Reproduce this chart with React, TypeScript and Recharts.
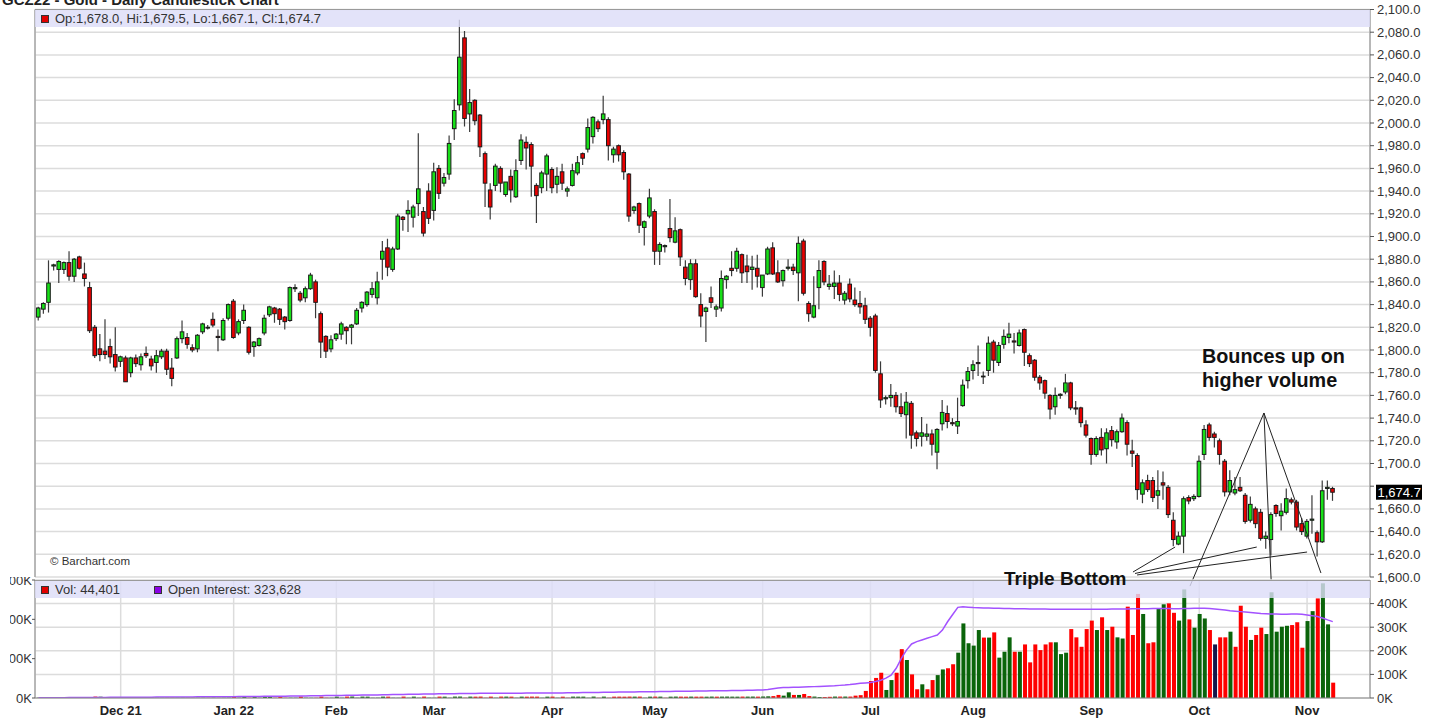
import React from 'react';
import { ComposedChart, Bar, Line, XAxis, YAxis, CartesianGrid, ReferenceLine } from 'recharts';

const FONT = '"Liberation Sans", Arial, Helvetica, sans-serif';

// ---- categories / ticks ----
const monthIdx = [16, 38, 58, 77, 100, 120, 141, 162, 182, 205, 226, 247];
const monthLabels = ['Dec 21', 'Jan 22', 'Feb', 'Mar', 'Apr', 'May', 'Jun', 'Jul', 'Aug', 'Sep', 'Oct', 'Nov'];
const priceTicks = [1600, 1620, 1640, 1660, 1680, 1700, 1720, 1740, 1760, 1780, 1800, 1820, 1840, 1860, 1880, 1900, 1920, 1940, 1960, 1980, 2000, 2020, 2040, 2060, 2080, 2100];
const volTicks = [0, 100, 200, 300, 400];
const leftVolTicks = [0, 100, 200, 300];
const xDomain: [number, number] = [-0.68, 259.25];

// ---- daily OHLC, Nov 8 2021 .. Nov 8 2022 ----
const ohlc: [number, number, number, number][] = [
  [1829,1838,1826,1837],[1836,1842,1832,1841],[1842,1879,1833,1859],[1874,1876,1870,1875],[1871,1879,1859,1878],
  [1871,1878,1867,1877],[1877,1887,1861,1865],[1865,1881,1860,1880],[1882,1883,1871,1872],[1867,1877,1856,1863],
  [1855,1860,1815,1817],[1820,1822,1793,1795],[1801,1814,1790,1796],[1799,1827,1792,1796],[1803,1810,1788,1794],
  [1796,1820,1781,1785],[1790,1795,1785,1794],[1793,1795,1772,1772],[1780,1794,1776,1793],[1793,1796,1785,1788],
  [1787,1797,1782,1794],[1797,1803,1793,1795],[1792,1795,1782,1786],[1789,1800,1780,1795],[1794,1801,1792,1799],
  [1799,1801,1778,1783],[1784,1793,1768,1775],[1793,1812,1792,1810],[1810,1826,1806,1816],[1811,1815,1801,1805],
  [1802,1805,1798,1800],[1801,1814,1798,1813],[1816,1824,1814,1823],[1820,1822,1818,1820],[1827,1833,1820,1822],
  [1812,1818,1799,1811],[1809,1828,1808,1826],[1828,1841,1826,1840],[1843,1845,1810,1811],[1815,1827,1813,1825],
  [1826,1840,1823,1835],[1820,1821,1796,1798],[1803,1808,1794,1807],[1804,1811,1803,1810],[1815,1831,1813,1828],
  [1831,1839,1829,1838],[1837,1838,1824,1832],[1836,1837,1822,1827],[1829,1830,1818,1825],[1826,1856,1825,1855],
  [1854,1858,1851,1855],[1850,1852,1842,1844],[1846,1856,1842,1854],[1854,1868,1853,1866],[1860,1862,1828,1842],
  [1832,1834,1793,1807],[1812,1813,1793,1799],[1801,1813,1798,1809],[1810,1815,1808,1814],[1814,1825,1809,1823],
  [1820,1821,1805,1817],[1820,1823,1805,1822],[1823,1837,1822,1835],[1837,1843,1833,1842],[1840,1852,1838,1851],
  [1849,1860,1846,1854],[1846,1869,1840,1860],[1880,1896,1862,1887],[1890,1898,1865,1873],[1871,1891,1869,1889],
  [1889,1920,1888,1918],[1917,1918,1905,1915],[1920,1932,1904,1923],[1917,1928,1908,1926],[1929,1991,1918,1942],
  [1922,1926,1900,1903],[1940,1947,1911,1916],[1923,1965,1914,1957],[1960,1963,1933,1938],[1947,1956,1944,1952],
  [1955,1989,1950,1982],[1995,2021,1985,2011],[2016,2091,2011,2058],[2075,2081,1997,2004],[2008,2030,1992,2018],
  [2020,2021,1998,2002],[2007,2008,1970,1979],[1973,1975,1926,1947],[1941,1947,1915,1926],[1945,1964,1940,1962],
  [1960,1962,1939,1947],[1937,1948,1935,1948],[1953,1959,1930,1941],[1935,1968,1934,1958],[1967,1990,1963,1985],
  [1983,1988,1959,1978],[1981,1983,1935,1962],[1945,1947,1912,1936],[1943,1958,1938,1956],[1955,1973,1940,1971],
  [1959,1961,1938,1943],[1946,1961,1938,1953],[1957,1964,1941,1947],[1940,1944,1935,1942],[1945,1964,1944,1958],
  [1956,1971,1954,1965],[1973,1974,1963,1969],[1977,2004,1974,1996],[1988,2006,1982,2005],[2001,2003,1992,1995],
  [2003,2024,1999,2008],[2003,2005,1967,1980],[1972,1979,1965,1977],[1980,1981,1966,1972],[1974,1976,1950,1957],
  [1955,1956,1913,1918],[1923,1927,1920,1926],[1929,1930,1903,1910],[1908,1914,1892,1913],[1918,1942,1916,1934],
  [1922,1924,1875,1887],[1887,1895,1875,1893],[1891,1893,1886,1892],[1907,1933,1895,1899],[1895,1917,1894,1905],
  [1906,1907,1874,1882],[1873,1879,1857,1863],[1862,1880,1853,1876],[1876,1880,1846,1847],[1840,1850,1820,1830],
  [1834,1838,1807,1837],[1846,1856,1837,1842],[1836,1840,1829,1838],[1837,1870,1834,1863],[1862,1866,1854,1865],
  [1872,1887,1865,1870],[1872,1890,1869,1887],[1884,1885,1859,1868],[1874,1884,1859,1869],[1871,1883,1853,1873],
  [1872,1884,1855,1865],[1855,1866,1847,1866],[1867,1891,1866,1889],[1890,1895,1866,1867],[1868,1879,1859,1860],
  [1861,1871,1856,1870],[1872,1880,1870,1873],[1873,1876,1866,1870],[1868,1900,1843,1894],[1896,1898,1848,1850],
  [1841,1843,1825,1832],[1829,1865,1828,1839],[1855,1879,1836,1870],[1878,1879,1857,1860],[1856,1866,1853,1858],
  [1856,1870,1845,1859],[1859,1866,1843,1849],[1844,1852,1840,1850],[1858,1863,1842,1845],[1844,1855,1838,1840],
  [1841,1852,1832,1838],[1839,1846,1823,1827],[1828,1830,1812,1820],[1830,1832,1780,1782],[1779,1790,1749,1756],
  [1757,1760,1752,1758],[1758,1770,1750,1760],[1760,1763,1745,1750],[1750,1762,1741,1744],[1743,1763,1722,1754],
  [1753,1755,1713,1725],[1727,1729,1715,1722],[1724,1741,1715,1727],[1724,1735,1720,1726],[1726,1730,1707,1717],
  [1710,1731,1695,1730],[1735,1756,1729,1745],[1744,1751,1731,1737],[1736,1740,1733,1735],[1733,1758,1726,1737],
  [1751,1774,1750,1769],[1773,1785,1766,1781],[1782,1791,1774,1787],[1789,1804,1777,1788],[1777,1781,1770,1777],
  [1782,1812,1777,1806],[1807,1809,1780,1791],[1789,1807,1786,1804],[1805,1818,1801,1812],[1811,1824,1806,1814],
  [1808,1815,1797,1807],[1804,1818,1803,1815],[1818,1819,1786,1798],[1795,1797,1785,1788],[1791,1792,1773,1776],
  [1776,1778,1765,1771],[1773,1774,1757,1762],[1760,1761,1739,1748],[1750,1767,1743,1760],[1760,1762,1757,1761],
  [1763,1779,1761,1771],[1771,1772,1747,1749],[1749,1755,1743,1748],[1749,1750,1732,1736],[1734,1738,1723,1725],
  [1722,1723,1699,1708],[1708,1724,1706,1722],[1723,1731,1707,1712],[1713,1731,1700,1727],[1729,1733,1715,1721],
  [1719,1730,1713,1728],[1728,1744,1727,1740],[1736,1738,1707,1717],[1711,1721,1697,1709],[1707,1709,1668,1677],
  [1673,1686,1665,1683],[1685,1690,1675,1677],[1685,1688,1666,1670],[1672,1694,1660,1676],[1683,1693,1668,1681],
  [1679,1681,1652,1655],[1650,1657,1627,1633],[1629,1640,1628,1636],[1636,1671,1621,1669],[1670,1672,1664,1667],
  [1669,1673,1667,1671],[1671,1707,1670,1702],[1708,1734,1703,1730],[1734,1736,1720,1723],[1726,1728,1714,1723],
  [1720,1722,1699,1708],[1702,1704,1671,1675],[1675,1694,1672,1685],[1674,1688,1672,1677],[1679,1688,1675,1676],
  [1672,1674,1647,1649],[1650,1671,1648,1664],[1660,1662,1643,1647],[1657,1660,1632,1634],[1634,1640,1625,1636],
  [1633,1657,1619,1655],[1663,1664,1653,1656],[1654,1665,1641,1658],[1657,1678,1655,1669],[1668,1670,1664,1666],
  [1666,1668,1641,1644],[1647,1652,1637,1640],[1636,1651,1634,1649],[1650,1672,1638,1651],[1639,1641,1618,1631],
  [1631,1685,1630,1676],[1678,1685,1668,1679],[1678,1679.5,1667.1,1674.7],
];

// ---- volume (thousands of contracts) ----
const volumeK = [
  1.0,0.8,1.2,0.7,1.1,0.6,1.3,0.9,0.8,1.2,1.5,6.0,5.5,1.0,0.9,1.1,
  1.2,1.4,0.9,1.0,1.1,0.8,1.0,0.9,0.7,1.0,1.2,0.9,1.1,0.8,0.6,0.9,1.0,0.8,1.1,0.7,0.9,1.2,
  5.5,1.2,6.0,1.0,5.8,1.1,5.6,6.2,1.0,5.9,0.9,1.2,1.0,6.1,1.1,0.8,1.0,5.8,1.2,0.9,
  5.6,1.0,5.9,6.1,1.1,5.8,5.6,1.0,1.2,5.7,5.6,1.1,0.9,5.8,1.0,5.7,1.1,5.9,1.2,
  1.0,5.8,5.6,1.1,5.9,6.0,1.2,5.8,5.6,5.9,1.1,5.7,1.0,5.9,5.8,5.6,1.0,5.7,5.5,5.8,5.7,1.0,5.6,
  5.7,1.0,5.5,1.1,5.8,5.6,5.7,1.0,5.9,1.0,5.8,1.1,5.6,5.7,5.5,5.9,5.7,5.8,1.0,5.6,5.8,5.7,1.0,5.6,5.9,5.7,5.5,5.8,5.6,5.7,5.5,5.9,5.6,5.8,6.0,5.7,5.6,5.9,5.8,6.0,5.7,6.2,7.0,8.0,
  13,10,24,13,13,17,8,6,4,4,5,6,6,6,6,10,12,
  30,72,85,107,34,76,107,207,161,100,
  37,58,37,76,97,121,126,143,192,316,
  232,222,288,256,256,278,171,196,257,196,
  196,227,151,227,203,227,236,236,186,192,
  292,257,217,292,328,288,342,288,302,257,
  252,387,267,441,356,232,236,377,397,401,
  361,328,460,333,298,356,337,288,227,257,
  257,281,217,391,302,246,267,298,271,448,
  281,302,306,309,321,213,326,368,422,486,
  312,65,
];

// ---- open interest (thousands) ----
const openInterestK = [
  1.0,1.1,1.2,1.3,1.4,1.5,1.6,1.7,1.9,2.0,2.1,2.3,2.5,2.6,2.8,3.0,
  3.1,3.2,3.3,3.4,3.5,3.6,3.7,3.8,3.9,4.0,4.1,4.2,4.4,4.5,4.6,4.8,4.9,5.0,5.2,5.3,5.5,5.6,
  5.8,6.0,6.2,6.4,6.6,6.8,7.0,7.2,7.4,7.6,7.8,8.0,8.3,8.6,8.9,9.2,9.5,9.8,10.1,10.4,
  10.7,11.0,11.3,11.6,11.9,12.2,12.5,12.8,13.2,13.6,14.0,14.4,14.8,15.2,15.6,16.0,16.4,16.8,17.0,
  17.3,17.6,17.9,18.2,18.5,18.8,19.0,19.2,19.4,19.6,19.8,20.0,20.1,20.2,20.3,20.4,20.5,20.6,20.7,20.8,20.9,21.0,21.1,
  21.2,21.4,21.6,21.9,22.2,22.5,22.8,23.1,23.4,23.7,24.0,24.3,24.6,24.9,25.2,25.5,25.8,26.1,26.4,26.7,
  27.0,27.3,27.6,27.9,28.2,28.5,28.8,29.1,29.4,29.7,30.0,30.3,30.6,30.9,31.2,31.5,31.8,32.1,32.5,33.0,33.5,
  34.0,36.0,39.0,42.0,44.0,45.0,45.5,46.0,46.8,47.5,48.2,49.0,50.0,51.0,52.0,53.5,55.0,57.0,59.5,62.0,
  64,66,70,75,84,97,126,168,203,229,239,246,253,260,267,288,323,354,384,387,
  385,383,382,381,381,380,380,379,379,378,378,378,377,377,377,377,376,376,376,376,376,376,376,376,376,
  376,376,376,377,377,377,377,378,378,378,378,379,379,379,379,378,378,379,379,380,
  380,380,379,377,375,373,370,368,366,364,362,360,358,357,356,356,355,355,356,356,355,352,349,345,339,331,323.6,
];

const lastPrice = 1674.7;

// annotation segments in data space (index, price)
const annotationSegments = [
  [{ x: 238.6, y: 1744.5 }, { x: 224.2, y: 1592.0 }],
  [{ x: 238.6, y: 1744.5 }, { x: 240.0, y: 1597.4 }],
  [{ x: 238.6, y: 1744.5 }, { x: 249.7, y: 1603.5 }],
  [{ x: 213.1, y: 1604.4 }, { x: 221.3, y: 1626.4 }],
  [{ x: 213.5, y: 1603.1 }, { x: 237.2, y: 1626.4 }],
  [{ x: 213.9, y: 1601.8 }, { x: 247.0, y: 1622.0 }],
];

const rows = ohlc.map(([o, h, l, c], i) => ({
  i, o, h, l, c,
  vol: volumeK[i],
  oi: openInterestK[i],
  dir: i === 0 ? 1 : Math.sign(c - ohlc[i - 1][3]),
}));

const rangeKey = (d: any) => [d.l, d.h];

const Candle = (props: any) => {
  const { x, y, width, height, payload } = props;
  if (!payload || !isFinite(y) || !isFinite(height)) return <g />;
  const { o, h, l, c } = payload;
  const span = h - l;
  const ppu = span > 0 ? height / span : 0;
  const yO = y + (h - o) * ppu;
  const yC = y + (h - c) * ppu;
  const top = Math.min(yO, yC);
  const bh = Math.max(Math.abs(yO - yC), 0.8);
  const cx = x + width / 2;
  const up = c >= o;
  return (
    <g>
      <line x1={cx} x2={cx} y1={y} y2={y + height} stroke="#3a3a3a" strokeWidth={1.2} />
      <rect x={x + 0.5} y={top} width={width - 1} height={bh} fill={up ? '#18e018' : '#e80000'} stroke="#1a1a1a" strokeWidth={1} />
    </g>
  );
};

const VolBar = (props: any) => {
  const { x, y, width, height, payload } = props;
  if (!payload || !isFinite(y) || height <= 0) return <g />;
  const col = payload.dir > 0 ? '#0a640a' : payload.dir < 0 ? '#ff0000' : '#16164a';
  return <rect x={x} y={y} width={width} height={height} fill={col} />;
};

const fmtPrice = (v: number) => v.toLocaleString('en-US', { minimumFractionDigits: 1, maximumFractionDigits: 1 });

const PriceTick = (p: any) => {
  const v = p.payload.value;
  if (v === 1680) return <g />;
  return (
    <text x={p.x} y={p.y} dy={4.5} textAnchor="start" fontSize={13} fill="#333" fontFamily={FONT}>
      {fmtPrice(v)}
    </text>
  );
};

const VolTick = (p: any) => (
  <text x={p.x} y={p.y} dy={4.5} textAnchor="start" fontSize={13} fill="#333" fontFamily={FONT}>
    {`${p.payload.value}K`}
  </text>
);

const LeftVolTick = (p: any) => (
  <text x={p.x} y={p.y} dy={4.5} textAnchor="end" fontSize={13} fill="#333" fontFamily={FONT}>
    {`${p.payload.value}K`}
  </text>
);

const PriceTag = (props: any) => {
  const vb = props.viewBox || {};
  const x = (vb.x || 0) + (vb.width || 0) + 6;
  const y = vb.y || 0;
  return (
    <g>
      <rect x={x} y={y - 7.5} width={46} height={15} fill="#000" />
      <text x={x + 1.5} y={y} dy={4.5} fontSize={13} fill="#fff" fontFamily={FONT}>
        {fmtPrice(lastPrice)}
      </text>
    </g>
  );
};

const bandStyle: React.CSSProperties = {
  position: 'absolute',
  left: 35,
  width: 1335,
  height: 18,
  background: 'rgba(221,221,248,0.82)',
  borderTop: '1px solid #9a9a9a',
  boxSizing: 'border-box',
};

const legendText: React.CSSProperties = {
  position: 'absolute',
  fontSize: 13,
  color: '#333',
  lineHeight: '16px',
  whiteSpace: 'nowrap',
};

const sq = (bg: string): React.CSSProperties => ({
  position: 'absolute',
  width: 8,
  height: 8,
  background: bg,
  border: '1px solid #333',
  boxSizing: 'border-box',
});

export default function App() {
  return (
    <div style={{ position: 'absolute', left: 0, top: 0, width: 1435, height: 719, overflow: 'hidden', background: '#fff', fontFamily: FONT }}>
      <div style={{ position: 'absolute', left: 2, top: -9, fontSize: 15, fontWeight: 'bold', color: '#222', whiteSpace: 'nowrap', lineHeight: '17px' }}>
        GCZ22 - Gold - Daily Candlestick Chart
      </div>

      <div style={{ position: 'absolute', left: 0, top: 0 }}>
        <ComposedChart width={1435} height={600} data={rows} margin={{ top: 9.5, right: 0, bottom: 23, left: 0 }}>
          <CartesianGrid stroke="#dcdcdc" strokeWidth={1.5} />
          <XAxis dataKey="i" type="number" domain={xDomain} ticks={monthIdx} allowDataOverflow interval={0}
            height={0} tick={false} tickLine={false} axisLine={{ stroke: '#8a8a8a' }} />
          <YAxis orientation="right" domain={[1600, 2100]} ticks={priceTicks} allowDataOverflow interval={0}
            width={65} tickSize={4} tickMargin={3} tickLine={{ stroke: '#555' }} axisLine={{ stroke: '#8a8a8a' }} tick={PriceTick} />
          <YAxis yAxisId="edge" orientation="left" width={35} domain={[0, 1]} allowDataOverflow tick={false} tickLine={false} axisLine={{ stroke: '#8a8a8a' }} />
          <Bar dataKey={rangeKey} barSize={4.6} shape={Candle} isAnimationActive={false} />
          {annotationSegments.map((seg, k) => (
            <ReferenceLine key={k} segment={seg} stroke="#222" strokeWidth={1} ifOverflow="visible" />
          ))}
          <ReferenceLine y={lastPrice} stroke="none" ifOverflow="visible" label={PriceTag} />
        </ComposedChart>
      </div>

      <div style={{ position: 'absolute', left: 0, top: 577 }}>
        <ComposedChart width={1435} height={142} data={rows} margin={{ top: 3, right: 0, bottom: 0, left: 0 }}>
          <CartesianGrid stroke="#dcdcdc" strokeWidth={1.5} />
          <XAxis dataKey="i" type="number" domain={xDomain} ticks={monthIdx} allowDataOverflow interval={0}
            height={21} tickLine={false} tickSize={4} tickMargin={4} axisLine={{ stroke: '#8a8a8a' }}
            tickFormatter={(v: number) => monthLabels[monthIdx.indexOf(v)] || ''}
            tick={{ fontSize: 13, fontWeight: 'bold', fill: '#222', fontFamily: FONT }} />
          <YAxis orientation="right" domain={[0, 500]} ticks={volTicks} allowDataOverflow interval={0}
            width={65} tickSize={4} tickMargin={3} tickLine={{ stroke: '#555' }} axisLine={{ stroke: '#8a8a8a' }} tick={VolTick} />
          <YAxis yAxisId="lv" orientation="left" type="number" domain={[0, 300]} ticks={leftVolTicks} allowDataOverflow interval={0}
            width={35} tickSize={3} tickMargin={0} tickLine={{ stroke: '#555' }} axisLine={{ stroke: '#8a8a8a' }} tick={LeftVolTick} />
          <Bar dataKey="vol" barSize={4} shape={VolBar} isAnimationActive={false} />
          <Line dataKey="oi" type="linear" stroke="#a352ff" strokeWidth={1.5} dot={false} activeDot={false} isAnimationActive={false} />
        </ComposedChart>
      </div>

      {/* the reference image is cropped at its left edge: first digit of the left volume labels is cut */}
      <div style={{ position: 'absolute', left: 0, top: 570, width: 9.5, height: 125, background: '#fff' }} />

      {/* price header */}
      <div style={{ ...bandStyle, top: 9 }} />
      <div style={{ ...sq('#e00000'), left: 41, top: 15 }} />
      <div style={{ ...legendText, left: 55, top: 11 }}>Op:1,678.0, Hi:1,679.5, Lo:1,667.1, Cl:1,674.7</div>

      {/* volume header */}
      <div style={{ ...bandStyle, top: 580 }} />
      <div style={{ ...sq('#e00000'), left: 41, top: 586 }} />
      <div style={{ ...legendText, left: 55, top: 582 }}>Vol: 44,401</div>
      <div style={{ ...sq('#8a00e6'), left: 154, top: 586 }} />
      <div style={{ ...legendText, left: 168, top: 582 }}>Open Interest: 323,628</div>

      <div style={{ position: 'absolute', left: 50, top: 555, fontSize: 11.5, color: '#333', whiteSpace: 'nowrap' }}>© Barchart.com</div>

      <div style={{ position: 'absolute', left: 1202, top: 345, fontSize: 19.8, fontWeight: 'bold', color: '#111', lineHeight: '23.5px', whiteSpace: 'nowrap' }}>
        Bounces up on<br />higher volume
      </div>
      <div style={{ position: 'absolute', left: 1004, top: 568, fontSize: 19, fontWeight: 'bold', color: '#111', lineHeight: '22px', whiteSpace: 'nowrap' }}>
        Triple Bottom
      </div>
    </div>
  );
}
